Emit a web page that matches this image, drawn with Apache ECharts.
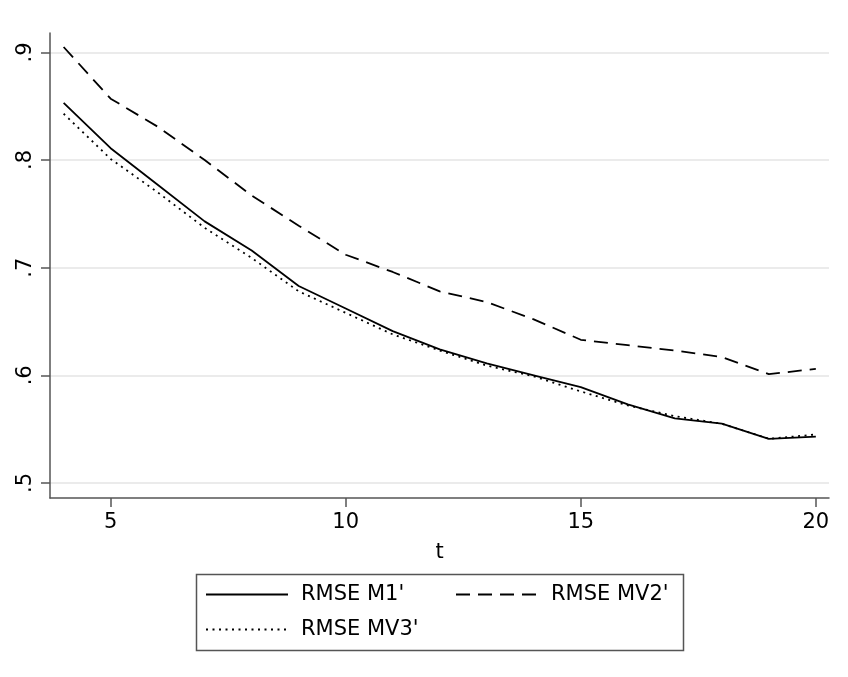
<!DOCTYPE html>
<html>
<head>
<meta charset="utf-8">
<title>RMSE</title>
<script src="https://cdn.jsdelivr.net/npm/echarts@6/dist/echarts.min.js"></script>
<style>
  html, body { margin: 0; padding: 0; background: #fff; }
  #chart { width: 848px; height: 677px; }
</style>
</head>
<body>
<div id="chart"></div>
<script>
// horizon t
const tValues = [4, 5, 6, 7, 8, 9, 10, 11, 12, 13, 14, 15, 16, 17, 18, 19, 20];
const rmseM1 = [0.853, 0.811, 0.777, 0.743, 0.716, 0.683, 0.662, 0.641, 0.624, 0.611, 0.600, 0.589, 0.573, 0.560, 0.555, 0.541, 0.543];
const rmseMV2 = [0.905, 0.857, 0.831, 0.800, 0.767, 0.739, 0.712, 0.696, 0.678, 0.668, 0.652, 0.633, 0.628, 0.623, 0.617, 0.601, 0.606];
const rmseMV3 = [0.843, 0.801, 0.770, 0.737, 0.709, 0.678, 0.658, 0.638, 0.623, 0.609, 0.599, 0.585, 0.572, 0.562, 0.555, 0.541, 0.545];
const seriesNames = ["RMSE M1'", "RMSE MV2'", "RMSE MV3'"];
const xTicks = [5, 10, 15, 20];
const yTicks = [0.5, 0.6, 0.7, 0.8, 0.9];
const yTickLabels = ['.5', '.6', '.7', '.8', '.9'];

const FONT = '"DejaVu Sans", sans-serif';
const AXIS = '#555';

function pairs(ys) {
    return tValues.map((t, i) => [t, ys[i]]);
}

const chart = echarts.init(document.getElementById('chart'), null, { renderer: 'canvas' });

const option = {
    backgroundColor: '#fff',
    animation: false,
    grid: { left: 50, right: 19, top: 33, bottom: 179, containLabel: false },
    xAxis: {
        type: 'value',
        min: 3.71,
        max: 20.28,
        name: 't',
        nameLocation: 'middle',
        nameGap: 44,
        nameTextStyle: { fontFamily: FONT, fontSize: 21, color: '#000' },
        axisLine: { lineStyle: { color: AXIS, width: 1.5 } },
        axisTick: { show: true, length: 9, lineStyle: { color: AXIS, width: 1.5 }, customValues: xTicks },
        axisLabel: { fontFamily: FONT, fontSize: 21, color: '#000', margin: 14, customValues: xTicks },
        splitLine: { show: false }
    },
    yAxis: {
        type: 'value',
        min: 0.486,
        max: 0.918,
        axisLine: { show: true, lineStyle: { color: AXIS, width: 1.5 } },
        axisTick: { show: true, length: 9, lineStyle: { color: AXIS, width: 1.5 }, customValues: yTicks },
        axisLabel: {
            fontFamily: FONT, fontSize: 21, color: '#000', rotate: 90, margin: 14,
            customValues: yTicks,
            formatter: v => yTickLabels[yTicks.findIndex(y => Math.abs(y - v) < 1e-6)]
        },
        splitLine: { show: true, lineStyle: { color: '#e4e4e4', width: 1.5 } }
    },
    legend: [
        { data: [seriesNames[0]], left: 205, top: 584 },
        { data: [seriesNames[1]], left: 455, top: 584 },
        { data: [seriesNames[2]], left: 205, top: 619 }
    ].map(l => Object.assign(l, {
        orient: 'horizontal',
        padding: 0,
        itemWidth: 82,
        itemHeight: 22,
        selectedMode: false,
        itemStyle: { opacity: 0, borderWidth: 0 },
        textStyle: { fontFamily: FONT, fontSize: 21, color: '#000', padding: [0, 0, 0, 8] }
    })),
    graphic: [{
        type: 'rect',
        left: 194,
        top: 572,
        shape: { width: 487, height: 76 },
        style: { fill: 'none', stroke: AXIS, lineWidth: 1.5 },
        silent: true
    }],
    series: [
        {
            name: seriesNames[0], type: 'line', symbol: 'none',
            data: pairs(rmseM1),
            lineStyle: { color: '#000', width: 1.8, type: 'solid' },
            itemStyle: { color: '#000' }
        },
        {
            name: seriesNames[1], type: 'line', symbol: 'none',
            data: pairs(rmseMV2),
            lineStyle: { color: '#000', width: 1.8, type: [14, 8] },
            itemStyle: { color: '#000' }
        },
        {
            name: seriesNames[2], type: 'line', symbol: 'none',
            data: pairs(rmseMV3),
            lineStyle: { color: '#000', width: 1.8, type: [2, 4.5] },
            itemStyle: { color: '#000' }
        }
    ]
};
chart.setOption(option);
</script>
</body>
</html>
